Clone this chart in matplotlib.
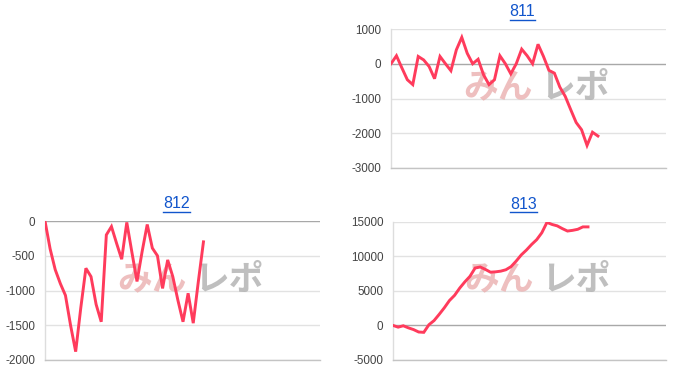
import numpy as np
import matplotlib
matplotlib.use('Agg')
import matplotlib.pyplot as plt
from matplotlib.lines import Line2D

plt.rcParams['font.family'] = ['Liberation Sans', 'Noto Sans CJK JP', 'DejaVu Sans']

# data
titles = ['811', '812', '813']
v811 = [0, 230, -120, -460, -600, 210, 110, -80, -430, 210, 0, -200, 400, 760, 300, 0,
        130, -320, -600, -460, 230, 0, -290, 0, 420, 230, 0, 560, 210, -190, -270,
        -670, -940, -1320, -1690, -1900, -2350, -1970, -2080]
v812 = [0, -400, -700, -900, -1070, -1500, -1880, -1250, -680, -800, -1200, -1450,
        -200, -80, -320, -550, -20, -450, -870, -440, -50, -390, -500, -970, -560,
        -800, -1140, -1450, -1040, -1470, -870, -300]
v813 = [0, -250, -50, -350, -600, -950, -1000, 100, 700, 1600, 2550, 3600, 4350, 5400,
        6300, 7100, 8300, 8450, 8100, 7700, 7750, 7850, 8050, 8500, 9300, 10200, 10900,
        11700, 12400, 13400, 14900, 14600, 14400, 14000, 13650, 13750, 13900, 14250, 14250]
series = [v811, v812, v813]
yticks = [np.arange(-3000, 1001, 1000), np.arange(-2000, 1, 500), np.arange(-5000, 15001, 5000)]
xmax = [50.5, 53.8, 53.2]

W, H = 700, 384
# plot boxes in pixels: left, right, top, bottom
boxes = [(391, 666, 29, 168), (45, 320, 221, 360), (393, 666, 221.7, 360)]

fig = plt.figure(figsize=(W / 100, H / 100), dpi=100)
line_color = '#ff3b5c'
link_color = '#1155cc'

title_texts = []
for title, vals, ticks, xm, (l, r, t, b) in zip(titles, series, yticks, xmax, boxes):
    ax = fig.add_axes([l / W, 1 - b / H, (r - l) / W, (b - t) / H])
    x = np.arange(len(vals))
    ax.plot(x, vals, color=line_color, lw=2.1, zorder=5, solid_joinstyle='miter')
    ax.set_xlim(0, xm)
    ax.set_ylim(ticks[0], ticks[-1])
    ax.set_yticks(ticks)
    ax.set_yticklabels([str(v) for v in ticks])
    ax.set_xticks([])
    for v in ticks:
        if v == 0:
            ax.axhline(v, color='#a8a8a8', lw=1.0, zorder=2)
        else:
            ax.axhline(v, color='#e2e2e2', lw=1.0, zorder=1)
    for s in ['top', 'right']:
        ax.spines[s].set_visible(False)
    ax.spines['left'].set_color('#dddddd')
    ax.spines['bottom'].set_color('#c4c4c4')
    ax.spines['left'].set_linewidth(1.0)
    ax.spines['bottom'].set_linewidth(1.0)
    ax.tick_params(axis='y', length=0, pad=7, labelsize=8.4, labelcolor='#444444')
    ax.patch.set_alpha(0)
    # watermark
    ax.text(0.39, 0.58, 'みん', transform=ax.transAxes, fontsize=25, fontweight='bold',
            color='#eab0b0', alpha=0.8, ha='center', va='center', zorder=3,
            family=['Noto Sans CJK JP'])
    ax.text(0.67, 0.58, 'レポ', transform=ax.transAxes, fontsize=25, fontweight='bold',
            color='#b4b4b4', alpha=0.85, ha='center', va='center', zorder=3,
            family=['Noto Sans CJK JP'])
    cx = (l + r) / 2 - 6
    tt = fig.text(cx / W, 1 - (t - 17) / H, title, ha='center', va='center',
                  fontsize=11.5, color=link_color)
    title_texts.append(tt)

# underline the link-style titles
fig.canvas.draw()
renderer = fig.canvas.get_renderer()
for tt in title_texts:
    bb = tt.get_window_extent(renderer)
    y = bb.y0
    fig.add_artist(Line2D([bb.x0 / W, bb.x1 / W], [y / H, y / H], color=link_color,
                          lw=1.0, transform=fig.transFigure))

fig.savefig('out.png', dpi=100)
